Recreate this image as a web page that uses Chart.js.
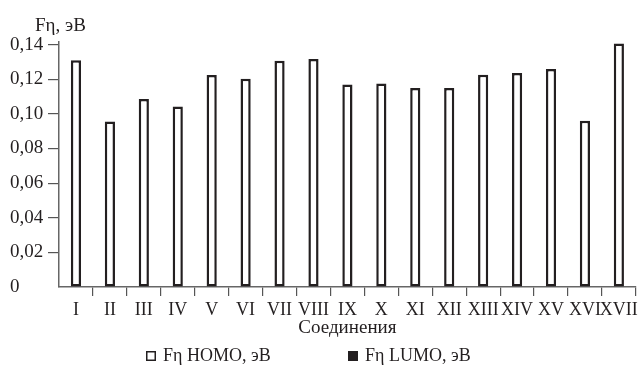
<!DOCTYPE html>
<html>
<head>
<meta charset="utf-8">
<script src="https://cdn.jsdelivr.net/npm/chart.js@4/dist/chart.umd.min.js"></script>
<style>
  html, body { margin: 0; padding: 0; background: #fff; }
  #wrap { width: 641px; height: 365px; }
</style>
</head>
<body>
<div id="wrap"><canvas id="c" width="641" height="365"></canvas></div>
<script>
const categories = ['I','II','III','IV','V','VI','VII','VIII','IX','X','XI','XII','XIII','XIV','XV','XVI','XVII'];
const homoValues = [0.131, 0.0956, 0.1086, 0.1043, 0.1225, 0.1203, 0.1306, 0.1317, 0.117, 0.1176, 0.1149, 0.1149, 0.1226, 0.1236, 0.1259, 0.096, 0.1406];
const lumoValues = [null,null,null,null,null,null,null,null,null,null,null,null,null,null,null,null,null];
const seriesLabels = ['Fη HOMO, эВ', 'Fη LUMO, эВ'];
const yTitle = 'Fη, эВ';
const xTitle = 'Соединения';

const FONT = '"Liberation Serif", "Times New Roman", serif';
const TEXT = '#231f20';

const extrasPlugin = {
  id: 'extras',
  afterDraw(chart) {
    const ctx = chart.ctx;
    const area = chart.chartArea;
    ctx.save();
    ctx.fillStyle = TEXT;
    ctx.font = '19px ' + FONT;
    ctx.textBaseline = 'middle';
    ctx.textAlign = 'left';
    ctx.fillText(yTitle, area.left - 24, 26);
    // legend
    ctx.font = '18px ' + FONT;
    const cx = chart.width / 2;
    const starts = [cx - 174.5, cx + 27.5];
    const fills = ['#ffffff', TEXT];
    const y = 356;
    chart.data.datasets.forEach((ds, i) => {
      const x0 = starts[i];
      ctx.fillStyle = fills[i];
      ctx.fillRect(x0, y - 5, 10, 10);
      ctx.strokeStyle = TEXT;
      ctx.lineWidth = 1.5;
      ctx.strokeRect(x0 + 0.75, y - 4.25, 8.5, 8.5);
      ctx.fillStyle = TEXT;
      ctx.fillText(ds.label, x0 + 17, y);
    });
    ctx.restore();
  }
};

new Chart(document.getElementById('c'), {
  type: 'bar',
  data: {
    labels: categories,
    datasets: [
      {
        label: seriesLabels[0],
        data: homoValues,
        backgroundColor: '#ffffff',
        borderColor: '#231f20',
        borderWidth: 2.5,
        borderSkipped: false,
        grouped: false,
        categoryPercentage: 1,
        barPercentage: 0.3
      },
      {
        label: seriesLabels[1],
        data: lumoValues,
        backgroundColor: '#231f20',
        borderColor: '#231f20',
        borderWidth: 1,
        grouped: false,
        categoryPercentage: 1,
        barPercentage: 0.3
      }
    ]
  },
  options: {
    responsive: false,
    animation: false,
    devicePixelRatio: 1,
    layout: { padding: { left: 10, right: 5, top: 42, bottom: 26 } },
    plugins: {
      legend: { display: false },
      tooltip: { enabled: false },
      title: { display: false }
    },
    scales: {
      x: {
        offset: true,
        grid: {
          offset: true,
          drawOnChartArea: false,
          tickLength: 9,
          color: '#555',
          tickColor: (c) => (c.index === 0 ? 'rgba(0,0,0,0)' : '#555'),
          lineWidth: 1.2
        },
        border: { display: true, color: '#666', width: 1.5 },
        ticks: {
          autoSkip: false,
          maxRotation: 0,
          minRotation: 0,
          padding: 3,
          color: TEXT,
          font: { family: FONT, size: 18 }
        },
        title: {
          display: true,
          text: xTitle,
          color: TEXT,
          font: { family: FONT, size: 19 },
          padding: { top: 0, bottom: 0 }
        },
        afterFit(scale) { scale.height = 52; }
      },
      y: {
        min: 0,
        max: 0.1415,
        grid: {
          drawOnChartArea: false,
          tickLength: 11,
          color: '#555',
          tickColor: (c) => (c.tick && c.tick.value === 0 ? 'rgba(0,0,0,0)' : '#555'),
          lineWidth: 1.2
        },
        border: { display: true, color: '#666', width: 1.5 },
        ticks: {
          stepSize: 0.02,
          includeBounds: false,
          crossAlign: 'far',
          padding: 0,
          color: TEXT,
          font: { family: FONT, size: 19 },
          callback: (v) => (Math.abs(v) < 1e-9 ? '0' : v.toFixed(2).replace('.', ','))
        },
        afterFit(scale) { scale.width = 49; }
      }
    }
  },
  plugins: [extrasPlugin]
});
</script>
</body>
</html>
